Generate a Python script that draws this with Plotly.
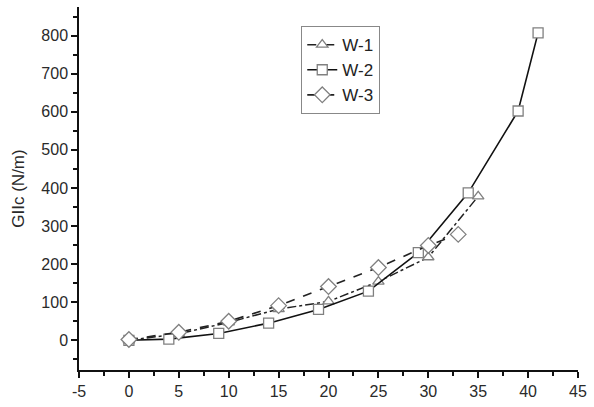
import plotly.graph_objects as go

x_w1 = [0, 5, 10, 15, 20, 25, 30, 35]
y_w1 = [0, 17, 47, 82, 102, 154, 218, 378]
x_w2 = [0, 4, 9, 14, 19, 24, 29, 34, 39, 41]
y_w2 = [0, 3, 18, 45, 81, 129, 230, 387, 602, 807]
x_w3 = [0, 5, 10, 15, 20, 25, 30, 33]
y_w3 = [2, 21, 50, 91, 141, 191, 249, 278]

x_ticks = [-5, 0, 5, 10, 15, 20, 25, 30, 35, 40, 45]
x_ticktext = ["-5", "0", "5", "10", "15", "20", "25", "30", "35", "40", "45"]
y_ticks = [0, 100, 200, 300, 400, 500, 600, 700, 800]

fig = go.Figure()
mk = dict(color="white", size=10, line=dict(color="#808080", width=1.3))
fig.add_trace(go.Scatter(x=x_w1, y=y_w1, name="W-1", mode="lines+markers",
                         line=dict(color="#222", width=1.5, dash="dashdot"),
                         marker=dict(symbol="triangle-up", **mk)))
fig.add_trace(go.Scatter(x=x_w2, y=y_w2, name="W-2", mode="lines+markers",
                         line=dict(color="#111", width=1.6),
                         marker=dict(symbol="square", **mk)))
fig.add_trace(go.Scatter(x=x_w3, y=y_w3, name="W-3", mode="lines+markers",
                         line=dict(color="#222", width=1.6, dash="dash"),
                         marker=dict(symbol="diamond", **{**mk, "size": 12})))

axfont = dict(family="Liberation Sans, Arial", size=16, color="#2a2a2a")
fig.update_layout(
    width=594, height=407,
    margin=dict(l=79, r=11, t=7, b=35),
    paper_bgcolor="white", plot_bgcolor="white",
    font=axfont,
    showlegend=True,
    legend=dict(x=0.445, y=0.948, xanchor="left", yanchor="top",
                bordercolor="#888", borderwidth=1.2, bgcolor="white",
                font=dict(family="Liberation Sans, Arial", size=17, color="#222"),
                itemwidth=30, tracegroupgap=0),
    xaxis=dict(range=[-5, 45], tickvals=x_ticks, ticktext=x_ticktext,
               showgrid=False, zeroline=False,
               showline=True, linecolor="#111", linewidth=1.5,
               ticks="outside", ticklen=6, tickcolor="#111", tickwidth=1.5,
               minor=dict(ticks="outside", ticklen=4, tickcolor="#111", dtick=2.5, tick0=0),
               tickfont=axfont),
    yaxis=dict(range=[-78, 875], tickvals=y_ticks, showgrid=False, zeroline=False,
               showline=True, linecolor="#111", linewidth=1.5,
               ticks="outside", ticklen=6, tickcolor="#111", tickwidth=1.5,
               minor=dict(ticks="outside", ticklen=4, tickcolor="#111", dtick=50, tick0=0),
               tickfont=axfont,
               title=dict(text="GIIc (N/m)", font=dict(family="Liberation Sans, Arial", size=17, color="#2a2a2a"), standoff=12)),
)
fig.write_html("out.html")
